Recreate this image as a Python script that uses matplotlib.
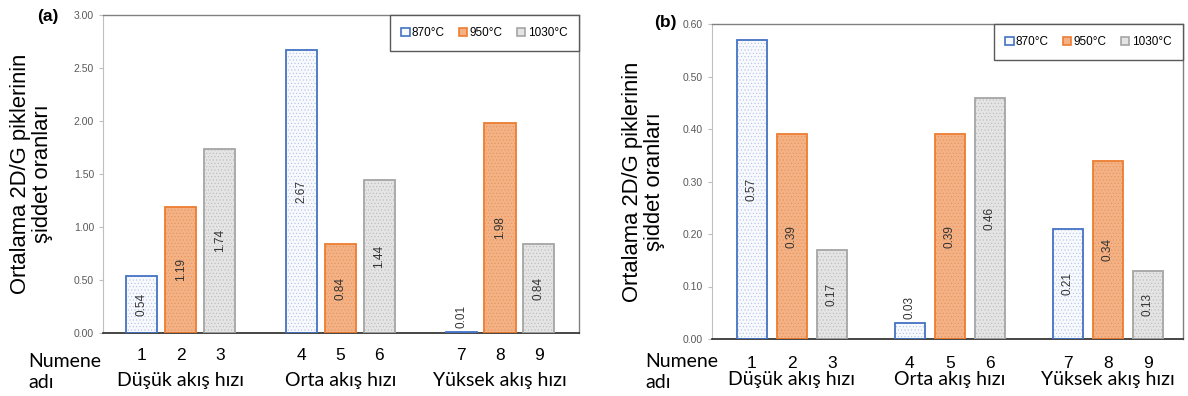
import numpy as np
import matplotlib
matplotlib.use("Agg")
import matplotlib.pyplot as plt
from matplotlib.patches import Patch
from matplotlib.transforms import blended_transform_factory

plt.rcParams['font.family'] = ['Liberation Sans', 'DejaVu Sans']
plt.rcParams['hatch.linewidth'] = 0.35

# Veriler
samples = ["1", "2", "3", "4", "5", "6", "7", "8", "9"]
groups = ["Düşük akış hızı", "Orta akış hızı", "Yüksek akış hızı"]
temps = ["870°C", "950°C", "1030°C"]

a_870 = [0.54, 2.67, 0.01]
a_950 = [1.19, 0.84, 1.98]
a_1030 = [1.74, 1.44, 0.84]

b_870 = [0.57, 0.03, 0.21]
b_950 = [0.39, 0.39, 0.34]
b_1030 = [0.17, 0.46, 0.13]

# Stiller
faces = ["#F7F9FD", "#F4B183", "#E4E4E4"]
dots = ["#A9BEE6", "#E0905C", "#B5B5B5"]
edges = ["#4472C4", "#ED7D31", "#A5A5A5"]

ylabel = "Ortalama 2D/G piklerinin\nşiddet oranları"
group_font = ['Lato', 'DejaVu Sans']


def draw_panel(ax, series, ymax, gap, width, xlim, tick_pad, group_y, ylab_x):
    for i, vals in enumerate(series):
        x = np.arange(3) * (3 + gap) + i
        ax.bar(x, vals, width, color=faces[i], edgecolor=dots[i], hatch='.....',
               linewidth=0, zorder=2)
        ax.bar(x, vals, width, fill=False, edgecolor=edges[i], linewidth=1.3, zorder=3)
        for xi, v in zip(x, vals):
            if v < 0.06 * ymax:
                ax.text(xi, v + 0.012 * ymax, f"{v:.2f}", rotation=90, ha='center',
                        va='bottom', fontsize=8.5, color='#333333', zorder=4)
            else:
                ax.text(xi, v / 2, f"{v:.2f}", rotation=90, ha='center',
                        va='center', fontsize=8.5, color='#333333', zorder=4)

    xs = np.concatenate([np.arange(3) + g * (3 + gap) for g in range(3)])
    ax.set_xticks(xs)
    ax.set_xticklabels(samples, fontsize=12.5)
    ax.tick_params(axis='x', length=0, pad=tick_pad)
    ax.set_xlim(*xlim)
    ax.set_ylim(0, ymax)
    ax.set_yticks(np.linspace(0, ymax, 7))
    ax.yaxis.set_major_formatter(plt.FormatStrFormatter('%.2f'))
    ax.tick_params(axis='y', labelsize=7.5, labelcolor='#595959', length=3,
                   color='#BFBFBF', width=0.8)

    for s in ['top', 'right']:
        ax.spines[s].set_color('#808080')
        ax.spines[s].set_linewidth(1.0)
    ax.spines['left'].set_color('#BFBFBF')
    ax.spines['bottom'].set_color('#262626')
    ax.spines['bottom'].set_linewidth(1.2)

    trans = blended_transform_factory(ax.transData, ax.transAxes)
    for g, name in enumerate(groups):
        ax.text(g * (3 + gap) + 1, group_y, name, transform=trans, ha='center',
                va='center', fontsize=14, family=group_font)

    ax.set_ylabel(ylabel, fontsize=15.8, linespacing=1.05)
    ax.yaxis.set_label_coords(ylab_x, 0.5)

    handles = [Patch(facecolor=faces[i], edgecolor=edges[i], linewidth=1.2) for i in range(3)]
    leg = ax.legend(handles, temps, ncol=3, loc='upper right', bbox_to_anchor=(1, 1),
                    borderaxespad=0, fontsize=8.5, handlelength=0.7, handleheight=0.7,
                    handletextpad=0.2, columnspacing=1.2, fancybox=False,
                    borderpad=1.0, framealpha=1)
    leg.get_frame().set_edgecolor('#595959')
    leg.get_frame().set_linewidth(1.0)


fig = plt.figure(figsize=(11.88, 3.96), dpi=100)
ax1 = fig.add_axes([103 / 1188, 1 - 333 / 396, 476 / 1188, 318 / 396])
ax2 = fig.add_axes([712 / 1188, 1 - 339 / 396, 471 / 1188, 315 / 396])

draw_panel(ax1, [a_870, a_950, a_1030], 3.0, 1.1, 0.8, (-1.0, 11.23), 11, -0.148, -0.105)
draw_panel(ax2, [b_870, b_950, b_1030], 0.6, 0.95, 0.75, (-1.0, 10.78), 12, -0.130, -0.10)

fig.text(48 / 1188, 1 - 16 / 396, "(a)", fontsize=12.5, fontweight='bold',
         ha='center', va='center')
fig.text(665 / 1188, 1 - 23 / 396, "(b)", fontsize=12.5, fontweight='bold',
         ha='center', va='center')

fig.text(28 / 1188, 1 - 372 / 396, "Numene\nadı", ha='left', va='center',
         fontsize=14, family=group_font, linespacing=1.25)
fig.text(645 / 1188, 1 - 372 / 396, "Numene\nadı", ha='left', va='center',
         fontsize=14, family=group_font, linespacing=1.25)

fig.savefig("out.png", dpi=100)
